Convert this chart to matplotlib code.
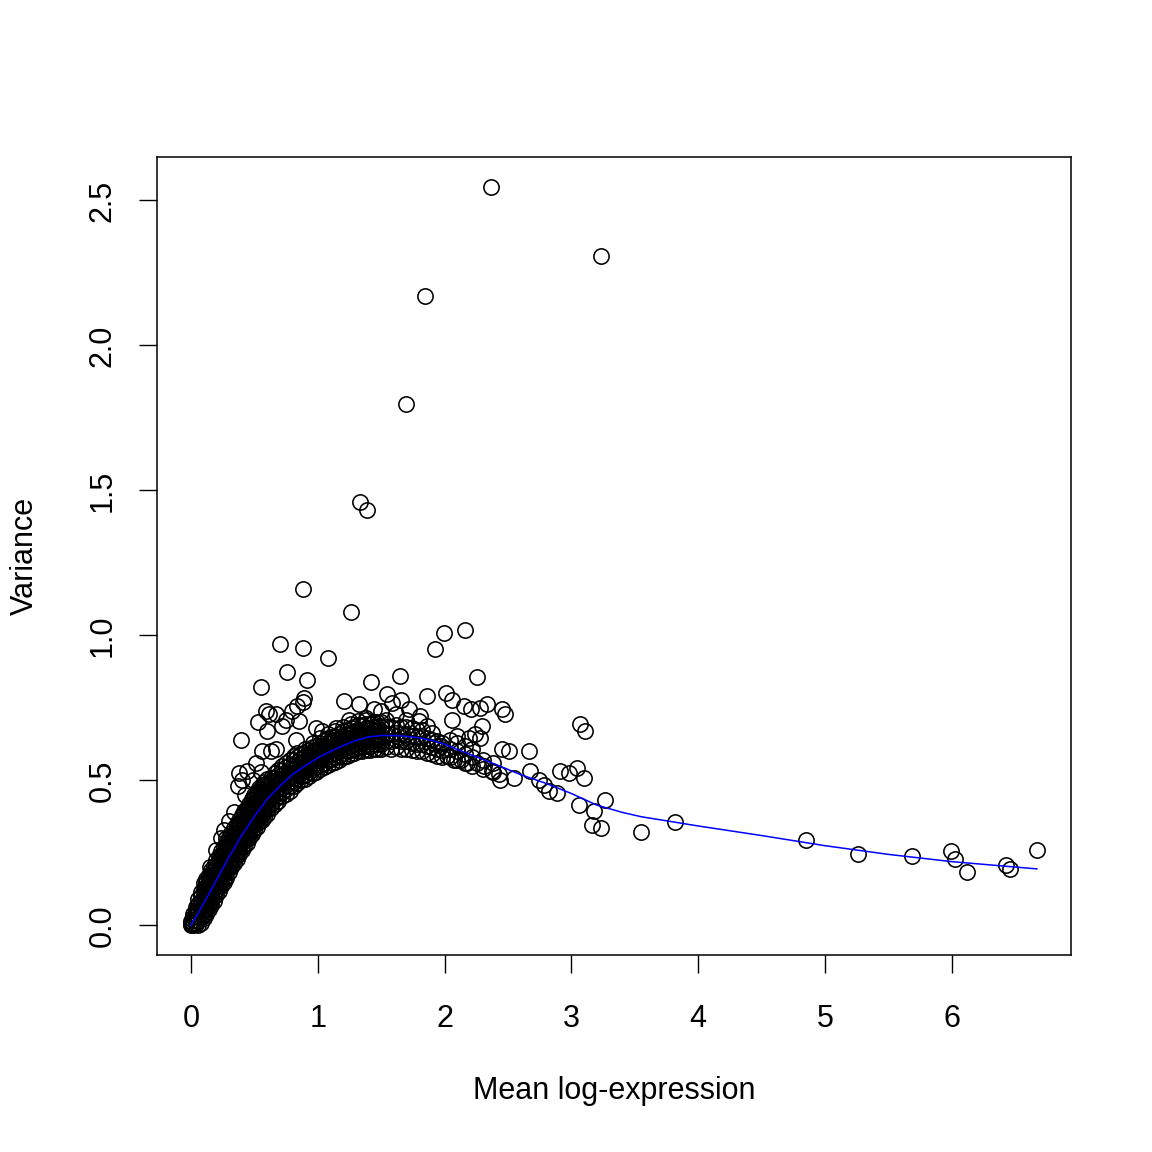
import matplotlib
matplotlib.use("Agg")
import matplotlib.pyplot as plt

plt.rcParams['font.family'] = ['Liberation Sans', 'DejaVu Sans']

# ---- fitted trend (blue line) ----
trend_x = [0, 0.1, 0.2, 0.3, 0.4, 0.5, 0.6, 0.7, 0.8, 0.9, 1.0, 1.1, 1.2, 1.3, 1.4,
           1.5, 1.6, 1.7, 1.8, 1.9, 2.0, 2.1, 2.2, 2.4, 2.6, 2.8, 3.0, 3.2, 3.4, 3.55,
           4.0, 4.5, 5.0, 5.5, 6.0, 6.67]
trend_y = [0, 0.075, 0.155, 0.235, 0.31, 0.375, 0.435, 0.48, 0.52, 0.55, 0.578, 0.60,
           0.62, 0.638, 0.65, 0.655, 0.655, 0.652, 0.647, 0.638, 0.625, 0.607, 0.59,
           0.556, 0.52, 0.49, 0.455, 0.415, 0.39, 0.375, 0.343, 0.31, 0.275, 0.245,
           0.22, 0.195]

# ---- dense band of genes: (mean, [variances]) ----
band_rows = [
    (0.00, [0.0, 0.005, 0.01, 0.015]),
    (0.02, [0.0, 0.01, 0.02, 0.03, 0.04]),
    (0.04, [0.005, 0.02, 0.035, 0.05, 0.065]),
    (0.06, [0.0, 0.015, 0.03, 0.045, 0.06, 0.075, 0.09]),
    (0.08, [0.01, 0.025, 0.04, 0.055, 0.07, 0.085, 0.10, 0.115]),
    (0.10, [0.025, 0.04, 0.055, 0.07, 0.085, 0.10, 0.115, 0.13]),
    (0.12, [0.04, 0.055, 0.07, 0.085, 0.10, 0.115, 0.13, 0.145, 0.16]),
    (0.14, [0.055, 0.07, 0.085, 0.10, 0.115, 0.13, 0.145, 0.16, 0.175]),
    (0.16, [0.07, 0.085, 0.10, 0.115, 0.13, 0.145, 0.16, 0.175, 0.19]),
    (0.18, [0.085, 0.10, 0.115, 0.13, 0.145, 0.16, 0.175, 0.19, 0.205]),
    (0.20, [0.105, 0.12, 0.135, 0.15, 0.165, 0.18, 0.195, 0.21, 0.225]),
    (0.22, [0.12, 0.135, 0.15, 0.165, 0.18, 0.195, 0.21, 0.225, 0.24]),
    (0.24, [0.135, 0.15, 0.165, 0.18, 0.195, 0.21, 0.225, 0.24, 0.255]),
    (0.26, [0.15, 0.165, 0.18, 0.195, 0.21, 0.225, 0.24, 0.255, 0.27]),
    (0.28, [0.165, 0.18, 0.195, 0.21, 0.225, 0.24, 0.255, 0.27, 0.285, 0.30]),
    (0.30, [0.185, 0.20, 0.215, 0.23, 0.245, 0.26, 0.275, 0.29, 0.305]),
    (0.32, [0.20, 0.215, 0.23, 0.245, 0.26, 0.275, 0.29, 0.305, 0.32]),
    (0.34, [0.215, 0.23, 0.245, 0.26, 0.275, 0.29, 0.305, 0.32, 0.335]),
    (0.36, [0.23, 0.245, 0.26, 0.275, 0.29, 0.305, 0.32, 0.335, 0.35]),
    (0.38, [0.245, 0.26, 0.275, 0.29, 0.305, 0.32, 0.335, 0.35, 0.365]),
    (0.40, [0.26, 0.275, 0.29, 0.305, 0.32, 0.335, 0.35, 0.365, 0.38]),
    (0.42, [0.275, 0.29, 0.305, 0.32, 0.335, 0.35, 0.365, 0.38, 0.395]),
    (0.44, [0.285, 0.30, 0.315, 0.33, 0.345, 0.36, 0.375, 0.39, 0.405]),
    (0.46, [0.30, 0.315, 0.33, 0.345, 0.36, 0.375, 0.39, 0.405, 0.42]),
    (0.48, [0.315, 0.33, 0.345, 0.36, 0.375, 0.39, 0.405, 0.42, 0.435]),
    (0.50, [0.33, 0.345, 0.36, 0.375, 0.39, 0.405, 0.42, 0.435, 0.45]),
    (0.52, [0.34, 0.355, 0.37, 0.385, 0.40, 0.415, 0.43, 0.445, 0.46]),
    (0.54, [0.355, 0.37, 0.385, 0.40, 0.415, 0.43, 0.445, 0.46, 0.475]),
    (0.56, [0.365, 0.38, 0.395, 0.41, 0.425, 0.44, 0.455, 0.47, 0.485]),
    (0.58, [0.375, 0.39, 0.405, 0.42, 0.435, 0.45, 0.465, 0.48, 0.495]),
    (0.60, [0.385, 0.40, 0.415, 0.43, 0.445, 0.46, 0.475, 0.49, 0.505]),
    (0.63, [0.405, 0.42, 0.435, 0.45, 0.465, 0.48, 0.495, 0.51]),
    (0.66, [0.42, 0.435, 0.45, 0.465, 0.48, 0.495, 0.51, 0.525]),
    (0.69, [0.43, 0.445, 0.46, 0.475, 0.49, 0.505, 0.52, 0.535]),
    (0.72, [0.445, 0.46, 0.475, 0.49, 0.505, 0.52, 0.535, 0.55]),
    (0.75, [0.455, 0.47, 0.485, 0.50, 0.515, 0.53, 0.545, 0.56]),
    (0.78, [0.465, 0.48, 0.495, 0.51, 0.525, 0.54, 0.555, 0.57]),
    (0.81, [0.48, 0.495, 0.51, 0.525, 0.54, 0.555, 0.57, 0.585]),
    (0.84, [0.49, 0.505, 0.52, 0.535, 0.55, 0.565, 0.58, 0.595]),
    (0.87, [0.50, 0.515, 0.53, 0.545, 0.56, 0.575, 0.59]),
    (0.90, [0.505, 0.52, 0.535, 0.55, 0.565, 0.58, 0.595, 0.61]),
    (0.93, [0.515, 0.53, 0.545, 0.56, 0.575, 0.59, 0.605]),
    (0.96, [0.525, 0.54, 0.555, 0.57, 0.585, 0.60, 0.615, 0.63]),
    (0.99, [0.53, 0.545, 0.56, 0.575, 0.59, 0.605, 0.62]),
    (1.02, [0.54, 0.555, 0.57, 0.585, 0.60, 0.615, 0.63, 0.645]),
    (1.05, [0.545, 0.56, 0.575, 0.59, 0.605, 0.62, 0.635]),
    (1.08, [0.555, 0.57, 0.585, 0.60, 0.615, 0.63, 0.645, 0.66]),
    (1.11, [0.56, 0.575, 0.59, 0.605, 0.62, 0.635, 0.65]),
    (1.14, [0.565, 0.58, 0.595, 0.61, 0.625, 0.64, 0.655, 0.67]),
    (1.17, [0.57, 0.585, 0.60, 0.615, 0.63, 0.645, 0.66]),
    (1.20, [0.58, 0.595, 0.61, 0.625, 0.64, 0.655, 0.67, 0.685]),
    (1.23, [0.585, 0.60, 0.615, 0.63, 0.645, 0.66, 0.675]),
    (1.26, [0.59, 0.605, 0.62, 0.635, 0.65, 0.665, 0.68, 0.695]),
    (1.29, [0.595, 0.61, 0.625, 0.64, 0.655, 0.67, 0.685]),
    (1.32, [0.60, 0.615, 0.63, 0.645, 0.66, 0.675, 0.69, 0.705]),
    (1.35, [0.60, 0.615, 0.63, 0.645, 0.66, 0.675, 0.69]),
    (1.38, [0.605, 0.62, 0.635, 0.65, 0.665, 0.68, 0.695, 0.71]),
    (1.41, [0.605, 0.62, 0.635, 0.65, 0.665, 0.68, 0.695]),
    (1.44, [0.61, 0.625, 0.64, 0.655, 0.67, 0.685, 0.70]),
    (1.47, [0.61, 0.625, 0.64, 0.655, 0.67, 0.685, 0.70]),
    (1.50, [0.61, 0.625, 0.64, 0.655, 0.67, 0.685, 0.70]),
    (1.54, [0.615, 0.635, 0.66, 0.685, 0.71]),
    (1.58, [0.61, 0.635, 0.66, 0.685]),
    (1.62, [0.615, 0.64, 0.665, 0.69]),
    (1.66, [0.61, 0.635, 0.66, 0.685]),
    (1.70, [0.61, 0.635, 0.66, 0.685]),
    (1.74, [0.605, 0.63, 0.655, 0.68]),
    (1.78, [0.60, 0.625, 0.65, 0.675]),
    (1.82, [0.60, 0.625, 0.65, 0.675]),
    (1.86, [0.595, 0.62, 0.645]),
    (1.90, [0.59, 0.615, 0.64, 0.665]),
    (1.94, [0.585, 0.61, 0.635]),
    (1.98, [0.58, 0.605, 0.63]),
    (2.04, [0.58, 0.61, 0.64]),
    (2.10, [0.57, 0.60, 0.63]),
    (2.16, [0.56, 0.59, 0.62]),
    (2.22, [0.55, 0.58, 0.61]),
    (2.30, [0.54, 0.57]),
    (2.38, [0.53, 0.56]),
]

# ---- scattered / outlying genes ----
out_x = [2.37, 3.236, 1.843, 1.693, 1.331, 1.386, 0.884, 1.26, 0.703, 0.884,
         1.081, 0.761, 0.919, 0.556, 1.995, 2.16, 1.924, 1.646, 1.42, 2.255,
         0.394, 0.528, 0.59, 0.617, 0.669, 0.604, 0.722, 0.748, 0.80, 0.84,
         0.853, 0.892, 0.827, 0.564, 0.63, 0.669, 0.512, 0.38, 0.407, 0.368,
         0.446, 1.207, 1.325, 0.884, 1.549, 1.588, 1.654, 1.496, 1.443, 1.72,
         1.864, 0.984, 1.037, 1.142, 1.246, 1.378, 1.614, 1.693, 1.80, 2.008,
         2.06, 2.152, 2.205, 2.283, 2.336, 2.454, 2.48, 2.06, 2.297, 1.81,
         1.864, 2.1, 2.19, 2.244, 2.28, 2.454, 2.506, 2.664, 1.97, 1.916,
         2.02, 2.075, 2.126, 2.18, 2.257, 2.31, 2.375, 2.43, 2.44, 2.546,
         2.677, 2.743, 2.783, 2.822, 3.07, 3.11, 2.913, 2.98, 3.045, 3.097,
         2.887, 3.057, 3.268, 3.176, 3.163, 3.234, 3.549, 3.82, 4.848, 5.262,
         5.682, 5.99, 6.024, 6.12, 6.43, 6.457, 6.672,
         0.10, 0.15, 0.20, 0.24, 0.26, 0.30, 0.34, 0.43, 0.49, 0.55]
out_y = [2.548, 2.31, 2.169, 1.797, 1.459, 1.434, 1.159, 1.082, 0.972, 0.957,
         0.921, 0.875, 0.845, 0.822, 1.007, 1.018, 0.952, 0.86, 0.838, 0.858,
         0.638, 0.701, 0.739, 0.728, 0.728, 0.67, 0.687, 0.71, 0.739, 0.756,
         0.705, 0.785, 0.641, 0.601, 0.601, 0.607, 0.561, 0.527, 0.503, 0.48,
         0.532, 0.773, 0.762, 0.77, 0.797, 0.768, 0.779, 0.739, 0.745, 0.745,
         0.791, 0.682, 0.67, 0.682, 0.71, 0.716, 0.728, 0.71, 0.705, 0.80,
         0.779, 0.756, 0.745, 0.751, 0.762, 0.745, 0.728, 0.71, 0.687, 0.722,
         0.687, 0.653, 0.647, 0.659, 0.647, 0.607, 0.601, 0.601, 0.618, 0.63,
         0.584, 0.572, 0.572, 0.561, 0.561, 0.549, 0.532, 0.521, 0.503, 0.509,
         0.532, 0.503, 0.486, 0.463, 0.693, 0.67, 0.532, 0.524, 0.544, 0.509,
         0.458, 0.417, 0.434, 0.394, 0.348, 0.337, 0.322, 0.355, 0.294, 0.247,
         0.241, 0.256, 0.228, 0.184, 0.207, 0.195, 0.259,
         0.145, 0.20, 0.26, 0.30, 0.33, 0.36, 0.39, 0.45, 0.50, 0.53]

x_ticks = [0, 1, 2, 3, 4, 5, 6]
x_ticklabels = ["0", "1", "2", "3", "4", "5", "6"]
y_ticks = [0.0, 0.5, 1.0, 1.5, 2.0, 2.5]
y_ticklabels = ["0.0", "0.5", "1.0", "1.5", "2.0", "2.5"]

band_x = [bx for bx, ys in band_rows for _ in ys]
band_y = [v for _, ys in band_rows for v in ys]
all_x = band_x + out_x
all_y = band_y + out_y

W = H = 1152
FS = 22
fig = plt.figure(figsize=(W / 100, H / 100), dpi=100)
ax = fig.add_axes([157 / W, 1 - 955 / H, (1071 - 157) / W, (955 - 157) / H])

ax.plot(all_x, all_y, linestyle='none', marker='o', markersize=11,
        markerfacecolor='none', markeredgecolor='black', markeredgewidth=1.15)
ax.plot(trend_x, trend_y, color='#0000FF', linewidth=1.1)

xr = max(all_x) - min(all_x)
yr = max(all_y) - min(all_y)
ax.set_xlim(min(all_x) - 0.04 * xr, max(all_x) + 0.04 * xr)
ax.set_ylim(min(all_y) - 0.04 * yr, max(all_y) + 0.04 * yr)

for s in ax.spines.values():
    s.set_linewidth(1.1)

ax.set_xticks(x_ticks)
ax.set_xticklabels(x_ticklabels)
ax.set_yticks(y_ticks)
ax.set_yticklabels(y_ticklabels, rotation=90, va='center')
ax.tick_params(axis='both', direction='out', length=13, width=1.0,
               labelsize=FS)
ax.tick_params(axis='x', pad=22.5)
ax.tick_params(axis='y', pad=15.5)

fig.text(614 / W, 1 - 1091 / H, "Mean log-expression", ha='center', va='center',
         fontsize=FS)
fig.text(25 / W, 1 - 556 / H, "Variance", ha='center', va='center',
         rotation=90, fontsize=FS)

fig.savefig("out.png", dpi=100, facecolor='white')
